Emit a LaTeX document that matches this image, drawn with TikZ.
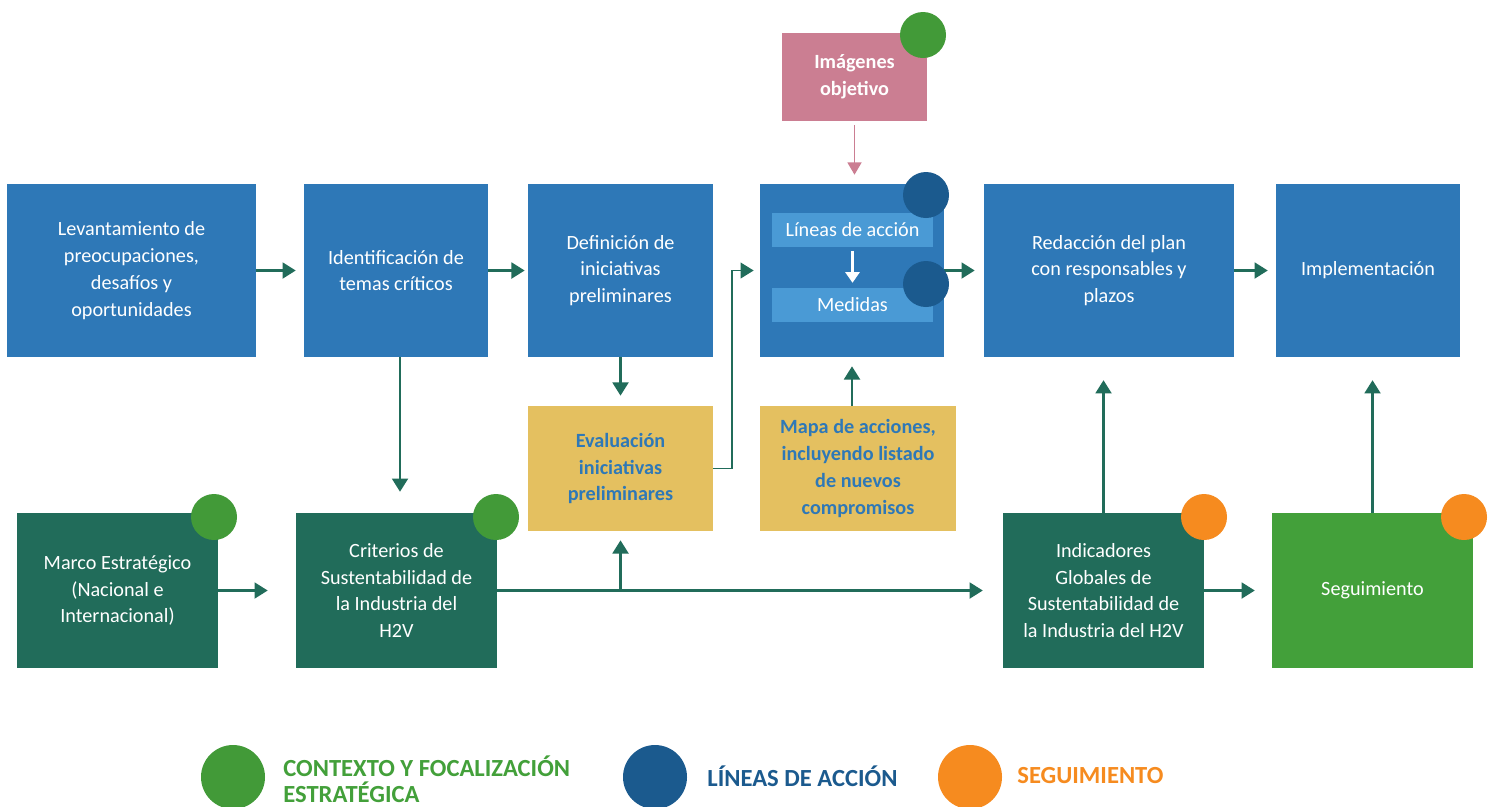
\documentclass[tikz,border=0pt]{standalone}
\usepackage{fontspec}
\setmainfont{Carlito}
\usetikzlibrary{arrows.meta,positioning,calc}

\definecolor{procblue}{HTML}{2E78B7}
\definecolor{barblue}{HTML}{4A9AD5}
\definecolor{darkblue}{HTML}{1B5A8E}
\definecolor{flowgreen}{HTML}{216C5A}
\definecolor{leafgreen}{HTML}{43A03A}
\definecolor{dotgreen}{HTML}{429A38}
\definecolor{segorange}{HTML}{F68B1F}
\definecolor{mapyellow}{HTML}{E4C060}
\definecolor{imgpink}{HTML}{CB7E92}

\tikzset{
  size/.style n args={2}{minimum width=#1*0.02cm, minimum height=#2*0.02cm},
  proc/.style={fill=procblue, text=white, inner sep=0pt, align=center},
  frame/.style={fill=flowgreen, text=white, inner sep=0pt, align=center},
  eval/.style={fill=mapyellow, text=procblue, font=\fontsize{11.5}{15.3}\selectfont\bfseries, inner sep=0pt, align=center},
  bar/.style={fill=barblue, text=white, inner sep=0pt, minimum width=161*0.02cm, minimum height=34*0.02cm},
  dot/.style={circle, inner sep=0pt, minimum size=46*0.02cm},
  bigdot/.style={circle, inner sep=0pt, minimum size=64*0.02cm},
  flow/.style={draw=flowgreen, line width=1.4pt, -{Triangle[length=7.5pt,width=9pt]}},
  legend/.style={font=\fontsize{14}{14.8}\selectfont\bfseries, inner sep=0pt, anchor=west, align=left}
}

\begin{document}
\begin{tikzpicture}[x=0.02cm, y=-0.02cm, font=\fontsize{11.5}{15.3}\selectfont]
  % canvas
  \clip (0,0) rectangle (1496,806);
  \fill[white] (0,0) rectangle (1496,806);

  % process row
  \node[proc, size={249}{173}] (lev) at (131.5,270.5) {Levantamiento de\\preocupaciones,\\desafíos y\\oportunidades};
  \node[proc, size={184}{173}] (ide) at (396,270.5) {Identificación de\\temas críticos};
  \node[proc, size={185}{173}] (def) at (620.5,270.5) {Definición de\\iniciativas\\preliminares};
  \node[fill=procblue, inner sep=0pt, size={184}{173}] (mid) at (852,270.5) {};
  \node[proc, size={250}{173}] (red) at (1109,270.5) {Redacción del plan\\con responsables y\\plazos};
  \node[proc, size={184}{173}] (imp) at (1368,270.5) {Implementación};

  % inside the middle box
  \node[bar] (lin) at (852.5,230) {Líneas de acción};
  \node[bar] (med) at (852.5,304.5) {Medidas};
  \draw[draw=white, line width=1.2pt, -{Triangle[length=6pt,width=8pt]}, shorten <=2pt, shorten >=2.5pt] (lin) -- (med);

  % top
  \node[fill=imgpink, text=white, inner sep=0pt, align=center, size={145}{88}, font=\fontsize{11.5}{15.3}\selectfont\bfseries] (img) at (854.5,77) {Imágenes\\objetivo};
  \draw[draw=imgpink, line width=0.8pt, -{Triangle[length=7pt,width=8pt]}, shorten <=2.3pt, shorten >=5.1pt] (img.south) -- (img.south |- mid.north);

  % yellow boxes
  \node[eval, size={185}{125}] (eva) at (620.5,468.5) {Evaluación\\iniciativas\\preliminares};
  \node[eval, size={196}{125}] (map) at (858,468.5) {Mapa de acciones,\\incluyendo listado\\de nuevos\\compromisos};

  % bottom row
  \node[frame, size={201}{155}] (mar) at (117.5,590.5) {Marco Estratégico\\(Nacional e\\Internacional)};
  \node[frame, size={201}{155}] (cri) at (396.5,590.5) {Criterios de\\Sustentabilidad de\\la Industria del\\H2V};
  \node[frame, size={201}{155}] (ind) at (1103.5,590.5) {Indicadores\\Globales de\\Sustentabilidad de\\la Industria del H2V};
  \node[fill=leafgreen, text=white, inner sep=0pt, size={201}{155}] (seg) at (1372.5,590.5) {Seguimiento};

  % connectors
  \draw[flow, shorten >=4.5pt] (lev) -- (ide);
  \draw[flow, shorten >=1.7pt] (ide) -- (def);
  \draw[flow, shorten >=5.1pt] (mid) -- (red);
  \draw[flow, shorten >=4.5pt] (red) -- (imp);
  \draw[flow, shorten >=11.9pt] ([xshift=4*0.02cm]ide.south) -- ([xshift=4*0.02cm]ide.south |- cri.north);
  \draw[flow, shorten >=5.7pt] (def) -- (eva);
  \draw[flow, line width=1pt, shorten >=3.4pt] (eva.east) -- ++(19,0) |- (mid.west);
  \draw[flow, shorten >=5.1pt] (map.north -| mid) -- (mid.south);
  \draw[flow, shorten >=15.9pt] (mar) -- (cri);
  \draw[flow, shorten >=11.3pt] (cri) -- (ind);
  \coordinate (fork) at (620.5,590.5);
  \draw[flow, shorten >=5.1pt] (fork) -- (eva);
  \draw[flow, shorten >=9.6pt] (ind) -- (seg);
  \draw[flow, shorten >=13pt] (ind.north) -- (ind.north |- red.south);
  \draw[flow, shorten >=13pt] (seg.north) -- (seg.north |- imp.south);

  % phase markers
  \node[dot, fill=dotgreen] (gimg) at (923,35) {};
  \node[dot, fill=darkblue] (blin) at (926,195) {};
  \node[dot, fill=darkblue] (bmed) at (926,284) {};
  \node[dot, fill=dotgreen] (gmar) at (214,517) {};
  \node[dot, fill=dotgreen] (gcri) at (496,517) {};
  \node[dot, fill=segorange] (oind) at (1204,517) {};
  \node[dot, fill=segorange] (oseg) at (1464,517) {};

  % legend
  \node[bigdot, fill=dotgreen] (lg1) at (233,777) {};
  \node[legend, text=leafgreen] (lt1) at (283,779) {CONTEXTO Y FOCALIZACIÓN\\ESTRATÉGICA};
  \node[bigdot, fill=darkblue] (lg2) at (655,777) {};
  \node[legend, text=darkblue] (lt2) at (707,776) {LÍNEAS DE ACCIÓN};
  \node[bigdot, fill=segorange] (lg3) at (970,777) {};
  \node[legend, text=segorange] (lt3) at (1017,776) {SEGUIMIENTO};
\end{tikzpicture}
\end{document}
